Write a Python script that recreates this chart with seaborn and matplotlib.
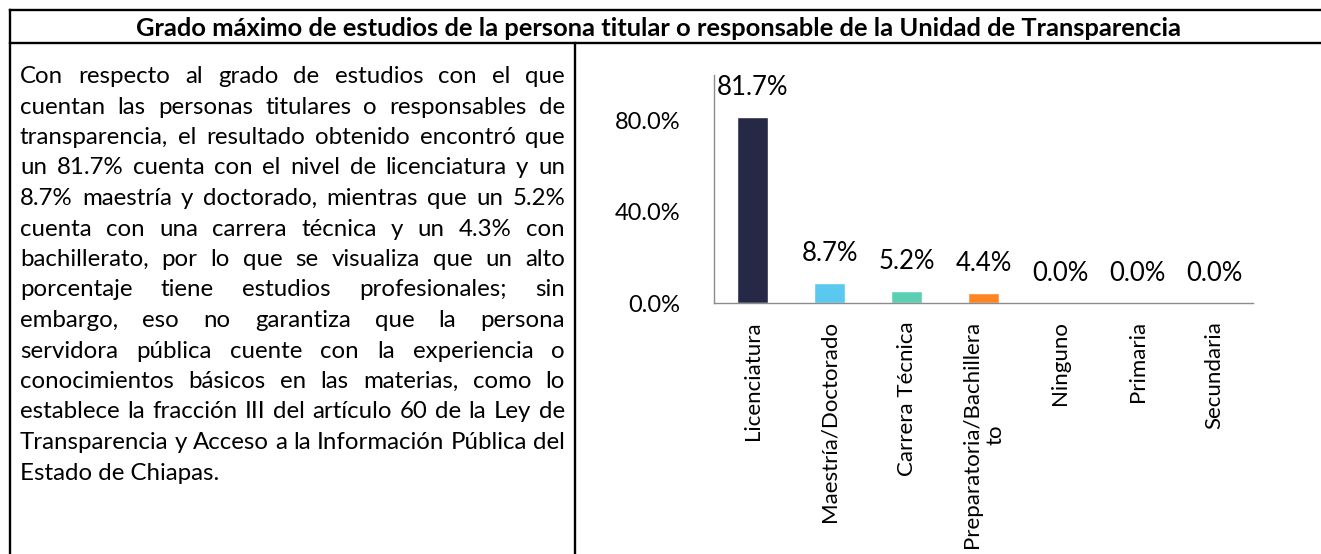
import numpy as np
import pandas as pd
import matplotlib
matplotlib.use("Agg")
import matplotlib.pyplot as plt
from matplotlib.lines import Line2D
from matplotlib.ticker import FuncFormatter, FixedLocator
import seaborn as sns

# datos
categorias = ["Licenciatura", "Maestría/Doctorado", "Carrera Técnica",
              "Preparatoria/Bachillera\nto", "Ninguno", "Primaria", "Secundaria"]
porcentajes = [81.7, 8.7, 5.2, 4.4, 0.0, 0.0, 0.0]
colores = ["#252945", "#5BC8F0", "#5CCFB3", "#FF8424", "#A5A5A5", "#FFC000", "#4472C4"]
marcas_y = [0, 40, 80]

titulo = "Grado máximo de estudios de la persona titular o responsable de la Unidad de Transparencia"
parrafo = [
    "Con respecto al grado de estudios con el que",
    "cuentan las personas titulares o responsables de",
    "transparencia, el resultado obtenido encontró que",
    "un 81.7% cuenta con el nivel de licenciatura y un",
    "8.7% maestría y doctorado, mientras que un 5.2%",
    "cuenta con una carrera técnica y un 4.3% con",
    "bachillerato, por lo que se visualiza que un alto",
    "porcentaje tiene estudios profesionales; sin",
    "embargo, eso no garantiza que la persona",
    "servidora pública cuente con la experiencia o",
    "conocimientos básicos en las materias, como lo",
    "establece la fracción III del artículo 60 de la Ley de",
    "Transparencia y Acceso a la Información Pública del",
    "Estado de Chiapas.",
]

df = pd.DataFrame({"categoria": categorias, "valor": porcentajes})

sns.set_theme(style="white")
plt.rcParams["font.family"] = ["Lato", "DejaVu Sans"]

W, H = 1321, 554
fig = plt.figure(figsize=(W / 100, H / 100), dpi=100)
renderer = fig.canvas.get_renderer()

def fx(x):
    return x / W

def fy(y):
    return 1 - y / H

def ancho(s, fs, **kw):
    t = fig.text(0, 0, s, fontsize=fs, **kw)
    w = t.get_window_extent(renderer).width
    t.remove()
    return w

# marco de la tabla
lw = 1.7
for (x0, y0, x1, y1) in [(10, 10, W, 10), (10, 43, W, 43), (10, 10, 10, H), (575, 43, 575, H)]:
    fig.add_artist(Line2D([fx(x0), fx(x1)], [fy(y0), fy(y1)], color="black", lw=lw,
                          solid_capstyle="projecting"))

# título: ajustado al ancho que ocupa en la imagen (~1048 px)
fs_tit = 16 * 1048 / ancho(titulo, 16, fontweight="bold")
fig.text(fx(659), fy(36), titulo, ha="center", va="baseline", fontsize=fs_tit,
         fontweight="bold", color="black")

# texto justificado
x_ini, x_fin = 20, 565
fs0 = 17
natural = max(ancho(l, fs0) for l in parrafo)
body_fs = fs0 * 541 / natural

for i, linea in enumerate(parrafo):
    y = fy(83 + i * 30.5)
    palabras = linea.split()
    if i == len(parrafo) - 1:
        fig.text(fx(x_ini), y, linea, fontsize=body_fs, va="baseline", color="black")
        continue
    anchos = [ancho(p, body_fs) for p in palabras]
    hueco = (x_fin - x_ini - sum(anchos)) / (len(palabras) - 1)
    x = x_ini
    for p, w in zip(palabras, anchos):
        fig.text(fx(x), y, p, fontsize=body_fs, va="baseline", color="black")
        x += w + hueco

# gráfica de barras
ax = fig.add_axes([fx(714), fy(303), (1253 - 714) / W, (303 - 75) / H])
sns.barplot(data=df, x="categoria", y="valor", hue="categoria", palette=colores,
            legend=False, width=0.4, ax=ax, saturation=1)
ax.set_ylim(0, 100)
ax.set_xlim(-0.5, len(categorias) - 0.5)
ax.yaxis.set_major_locator(FixedLocator(marcas_y))
ax.yaxis.set_major_formatter(FuncFormatter(lambda v, p: f"{v:.1f}%"))
ax.set_xlabel("")
ax.set_ylabel("")
ax.set_facecolor("none")

gris = "#8C8C8C"
for lado in ["top", "right"]:
    ax.spines[lado].set_visible(False)
for lado in ["left", "bottom"]:
    ax.spines[lado].set_color(gris)
    ax.spines[lado].set_linewidth(1.0)

ax.set_xticks(range(len(categorias)))
ax.set_xticklabels(categorias, rotation=90, fontsize=16, color="black",
                   multialignment="center")
ax.set_xticks(np.arange(-0.5, len(categorias), 1), minor=True)
ax.tick_params(axis="x", which="major", length=0, pad=13)
ax.tick_params(axis="x", which="minor", length=6, width=1, color=gris, direction="out")
ax.tick_params(axis="y", length=6, width=1, color=gris, direction="out", pad=18,
               labelsize=17, labelcolor="black")

for cont, v in zip(ax.containers, porcentajes):
    ax.bar_label(cont, labels=[f"{v:.1f}%"], padding=12, fontsize=18.5, color="black")

fig.savefig("out.png", dpi=100)
